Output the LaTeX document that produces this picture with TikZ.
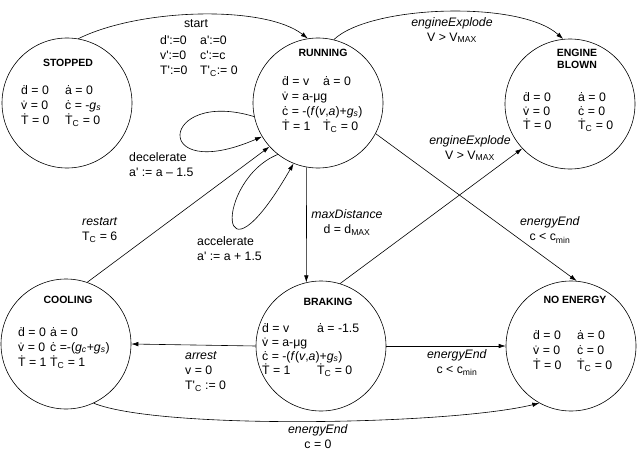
\documentclass[tikz,border=0pt]{standalone}
\usepackage{fontspec}
\setmainfont{Liberation Sans}
\usetikzlibrary{arrows.meta}
\newcommand\dt[1]{\.{#1}}
\newcommand\sub[1]{\textsubscript{#1}}
\newcommand\q{\textquotesingle}
\newcommand\cl[2]{\makebox[#1][l]{#2}}
\tikzset{
  state/.style={draw, circle, minimum size=130pt, inner sep=0pt, line width=0.6pt},
  sname/.style={font=\fontsize{10.5}{12}\selectfont\bfseries, align=center, inner sep=0pt},
  eqs/.style={font=\fontsize{12.3}{15}\selectfont, inner sep=0pt, anchor=base west},
  lbl/.style={font=\fontsize{12.3}{15}\selectfont, inner sep=0pt},
  arr/.style={-{Latex[length=7pt,width=4.5pt]}, line width=0.6pt},
}
\begin{document}
\begin{tikzpicture}[x=1pt,y=-1pt]
\useasboundingbox (0,0) rectangle (640,452);
% states
\node[state] (stopped) at (67,103) {};
\node[state] (running) at (318,103) {};
\node[state] (engine) at (570,104) {};
\node[state] (cooling) at (66,344) {};
\node[state] (braking) at (321,346) {};
\node[state] (noenergy) at (571,346) {};
% names
\node[sname] (stopped-n) at (68,63) {STOPPED};
\node[sname] (running-n) at (323,53) {RUNNING};
\node[sname] (engine-n) at (577,59) {ENGINE\\BLOWN};
\node[sname] (cooling-n) at (68,300) {COOLING};
\node[sname] (braking-n) at (328,302) {BRAKING};
\node[sname] (noenergy-n) at (575,300) {NO ENERGY};
% equations
\node[eqs] (stopped-eq) at (21,94) {\begin{tabular}[t]{@{}l@{}}
\cl{44pt}{\dt{d} = 0}\dt{a} = 0\\
\cl{44pt}{\dt{v} = 0}\dt{c} = -\textit{g}\sub{\textit{s}}\\
\cl{44pt}{\dt{T} = 0}\dt{T}\sub{C} = 0\end{tabular}};
\node[eqs] (running-eq) at (282,85) {\begin{tabular}[t]{@{}l@{}}
\cl{41pt}{\dt{d} = v}\dt{a} = 0\\
\dt{v} = a-μg\\
\dt{c} = -(\textit{f}(\textit{v},\textit{a})+\textit{g}\sub{\textit{s}})\\
\cl{41pt}{\dt{T} = 1}\dt{T}\sub{C} = 0\end{tabular}};
\node[eqs] (engine-eq) at (523,101) {\fontsize{12.3}{14}\selectfont\begin{tabular}[t]{@{}l@{}}
\cl{55pt}{\dt{d} = 0}\dt{a} = 0\\
\cl{55pt}{\dt{v} = 0}\dt{c} = 0\\
\cl{55pt}{\dt{T} = 0}\dt{T}\sub{C} = 0\end{tabular}};
\node[eqs] (cooling-eq) at (18,336) {\begin{tabular}[t]{@{}l@{}}
\cl{32pt}{\dt{d} = 0}\dt{a} = 0\\
\cl{32pt}{\dt{v} = 0}\dt{c} =-(\textit{g}\sub{\textit{c}}+\textit{g}\sub{\textit{s}})\\
\cl{32pt}{\dt{T} = 1}\dt{T}\sub{C} = 1\end{tabular}};
\node[eqs] (braking-eq) at (262,332) {\fontsize{12.3}{14}\selectfont\begin{tabular}[t]{@{}l@{}}
\cl{55pt}{\dt{d} = v}\dt{a} = -1.5\\
\dt{v} = a-μg\\
\dt{c} = -(\textit{f}(\textit{v},\textit{a})+\textit{g}\sub{\textit{s}})\\
\cl{55pt}{\dt{T} = 1}\dt{T}\sub{C} = 0\end{tabular}};
\node[eqs] (noenergy-eq) at (533,339) {\begin{tabular}[t]{@{}l@{}}
\cl{44pt}{\dt{d} = 0}\dt{a} = 0\\
\cl{44pt}{\dt{v} = 0}\dt{c} = 0\\
\cl{44pt}{\dt{T} = 0}\dt{T}\sub{C} = 0\end{tabular}};
% connectors
\draw[arr] (stopped.80) .. controls (140,8) and (265,5) .. (running.99);
\draw[arr] (running.76) .. controls (370,5) and (520,0) .. (engine.96);
\draw[arr] (running.192) .. controls (160,88) and (150,185) .. (running.211);
\draw[arr] (running.232) .. controls (215,180) and (215,300) .. (running.248);
\draw[arr] (cooling.71) -- (running.222);
\draw[arr] (running.260) -- (braking.103);
\draw[arr] (braking.73) -- (engine.223);
\draw[arr] (running.332) -- (noenergy.85);
\draw[arr] (braking.180) -- (cooling.0);
\draw[arr] (braking.0) -- (noenergy.180);
\draw[arr] (cooling.295) .. controls (160,430) and (450,425) .. (noenergy.241);
% labels
\node[lbl] (start-l) at (196,24) {start};
\node[eqs] (start-eq) at (160,45) {\begin{tabular}[t]{@{}l@{}}
\cl{40pt}{d\q:=0}a\q:=0\\
\cl{40pt}{v\q:=0}c\q:=c\\
\cl{40pt}{T\q:=0}T\q\sub{C}:= 0\end{tabular}};
\node[lbl, align=center] (ee1-l) at (452,30) {\textit{engineExplode}\\V > V\sub{MAX}};
\node[lbl, align=left, anchor=west] (dec-l) at (129,164.5) {decelerate\\a\q{} := a – 1.5};
\node[lbl, align=left, anchor=west] (acc-l) at (197,249) {accelerate\\a\q{} := a + 1.5};
\node[lbl, align=left, anchor=west] (rst-l) at (82,230) {\textit{restart}\\T\sub{C} = 6};
\node[lbl, align=center] (md-l) at (347,222.5) {\textit{maxDistance}\\d = d\sub{MAX}};
\node[lbl, align=center] (ee2-l) at (470,148) {\textit{engineExplode}\\V > V\sub{MAX}};
\node[lbl, align=center] (en1-l) at (550,230) {\textit{energyEnd}\\c < c\sub{min}};
\node[lbl, align=left, anchor=west] (arr-l) at (185,372) {\textit{arrest}\\v = 0\\T\q\sub{C} := 0};
\node[lbl, align=center] (en2-l) at (457,362.5) {\textit{energyEnd}\\c < c\sub{min}};
\node[lbl, align=center] (en3-l) at (318,437) {\textit{energyEnd}\\c = 0};
\end{tikzpicture}
\end{document}
